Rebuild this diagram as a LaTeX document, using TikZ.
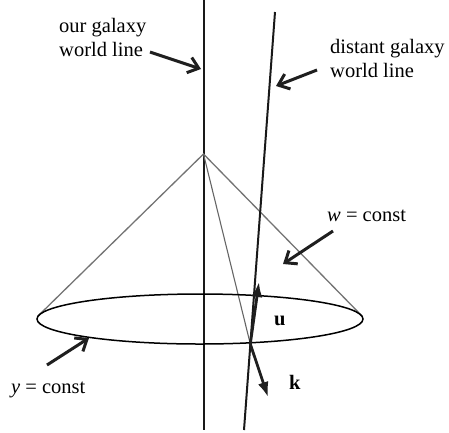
\documentclass[tikz,border=0pt]{standalone}
\usepackage{fontspec}
\setmainfont{Liberation Serif}
\usetikzlibrary{arrows.meta,shapes.geometric}
\begin{document}
\begin{tikzpicture}[x=1pt,y=-1pt,
  lbl/.style={anchor=base west,inner sep=0pt,font=\fontsize{20.5}{23.5}\selectfont,align=left},
  wline/.style={line width=2pt,black!90},
  coneline/.style={line width=1.3pt,black!55},
  pointer/.style={line width=3pt,black!88,-{Straight Barb[length=10pt,width=16pt,line width=3pt]}},
  vec/.style={line width=2.8pt,black!88,-{Latex[length=15pt,width=11pt]}}]
\useasboundingbox (0,0) rectangle (449,432);
% world lines
\coordinate (ot) at (203.5,0);
\coordinate (ob) at (203.5,430);
\coordinate (dt) at (275,12);
\coordinate (db) at (244,430);
\draw[wline] (ot) -- (ob);
% cone
\coordinate (apex) at (203.5,154);
\coordinate (cl) at (38,316);
\coordinate (cr) at (362,316);
\coordinate (ev) at (250.3,344);
\draw[coneline] (cl) -- (apex) -- (cr);
\draw[line width=1.1pt,black!60] (apex) -- (ev);
\node[draw,ellipse,line width=1.5pt,minimum width=326pt,minimum height=50pt,inner sep=0pt] (disk) at (200,319) {};
\draw[wline] (dt) -- (db);
% vectors
\coordinate (ut) at (259,282);
\coordinate (kt) at (268,397);
\draw[vec] (ev) -- (ut);
\draw[vec] (ev) -- (kt);
\node[lbl,font=\fontsize{20.5}{23.5}\selectfont\bfseries] (u) at (274,325) {u};
\node[lbl,font=\fontsize{20.5}{23.5}\selectfont\bfseries] (k) at (289,389) {k};
% labels
\node[lbl] (og) at (59,56) {our galaxy\\world line};
\node[lbl] (dg) at (330,77) {distant galaxy\\world line};
\node[lbl] (wc) at (327,221) {\itshape w\upshape{} = const};
\node[lbl] (yc) at (11,393) {\itshape y\upshape{} = const};
% pointers
\coordinate (p1s) at (150,52);
\coordinate (p1e) at (201,69);
\coordinate (p2s) at (317,70);
\coordinate (p2e) at (276,86);
\coordinate (p3s) at (333,231);
\coordinate (p3e) at (283,264);
\coordinate (p4s) at (47,365);
\coordinate (p4e) at (89,338);
\draw[pointer] (p1s) -- (p1e);
\draw[pointer] (p2s) -- (p2e);
\draw[pointer] (p3s) -- (p3e);
\draw[pointer] (p4s) -- (p4e);
\end{tikzpicture}
\end{document}
